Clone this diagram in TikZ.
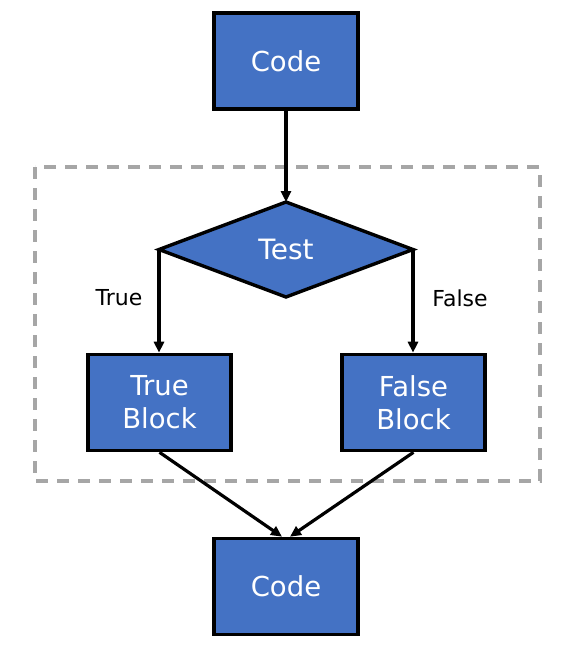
\documentclass[tikz,border=0pt]{standalone}
\usepackage{fontspec}
\setmainfont{DejaVu Sans}
\usetikzlibrary{shapes.geometric,arrows.meta}
\definecolor{boxblue}{HTML}{4472C4}
\definecolor{dashgray}{HTML}{A6A6A6}
\begin{document}
\begin{tikzpicture}[x=1pt,y=-1pt,
  blockbox/.style={draw=black,line width=3.6pt,fill=boxblue,text=white,
    minimum width=144pt,minimum height=96pt,inner sep=0pt,align=center,
    font=\fontsize{27.5}{33}\selectfont},
  testbox/.style={diamond,draw=black,line width=3.4pt,fill=boxblue,text=white,
    minimum width=254pt,minimum height=95pt,inner sep=0pt,outer sep=0pt,
    font=\fontsize{28}{33}\selectfont},
  conn/.style={line width=3.2pt,-{Triangle[length=11pt,width=10pt]}},
  lbl/.style={font=\fontsize{22}{26}\selectfont,text=black,inner sep=0pt}]
\useasboundingbox (0,0) rectangle (572,648);
\draw[dashgray,line width=3.3pt,dash pattern=on 12pt off 9pt] (35,167) rectangle (540,481);
\node[blockbox] (code1) at (286,61) {Code};
\node[testbox] (test) at (286,249.5) {Test};
\node[blockbox,minimum width=143pt] (tb) at (159.5,402.5) {True\\Block};
\node[blockbox,minimum width=143pt] (fb) at (413.5,402.5) {False\\Block};
\node[blockbox] (code2) at (286,586.5) {Code};
\node[lbl] (lt) at (119,298) {True};
\node[lbl] (lf) at (460,298) {False};
\draw[conn] (code1.south) -- (test.north);
\draw[conn] (test.west) -- (test.west |- tb.north);
\draw[conn] (test.east) -- (test.east |- fb.north);
\draw[conn] (tb.south) -- ([xshift=-4pt]code2.north);
\draw[conn] (fb.south) -- ([xshift=4pt]code2.north);
\end{tikzpicture}
\end{document}
